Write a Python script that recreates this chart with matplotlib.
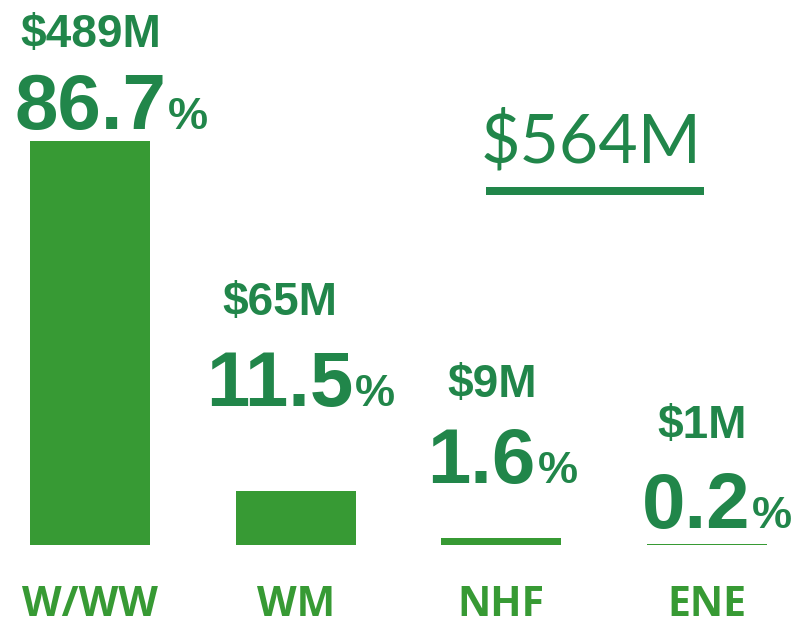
import matplotlib.pyplot as plt

# data
categories = ["W/WW", "WM", "NHF", "ENE"]
share_pct = [86.7, 11.5, 1.6, 0.2]
pct_labels = ["86.7", "11.5", "1.6", "0.2"]
money_labels = ["$489M", "$65M", "$9M", "$1M"]
total_label = "$564M"

# layout (figure pixels, y measured from top)
W, H = 802, 626
money_pos = [(91, 47), (280, 315), (492, 397), (702, 438)]
pct_pos = [(166, 129), (353, 406), (536, 483), (750, 528)]
label_y = 616

BAR = "#379a34"
TXT = "#21864a"

fig = plt.figure(figsize=(W / 72, H / 72), dpi=72)
ax = fig.add_axes([0, 0, 1, 1])
ax.axis("off")

step = 205.67
ax.set_xlim(-90 / step, (W - 90) / step)
scale = 86.7 / 404
ax.set_ylim(-81 * scale, (H - 81) * scale)

ax.bar(range(len(categories)), share_pct, width=120 / step, color=BAR)

for i, cat in enumerate(categories):
    ax.annotate(cat, xy=(i, H - label_y), xycoords=("data", "figure pixels"),
                ha="center", va="baseline", fontsize=41, fontweight="bold",
                family="Open Sans", color=BAR)
    mx, my = money_pos[i]
    ax.annotate(money_labels[i], xy=(mx, H - my), xycoords="figure pixels",
                ha="center", va="baseline", fontsize=46, fontweight="bold",
                family="Liberation Sans", color=TXT)
    px, py = pct_pos[i]
    ax.annotate(pct_labels[i], xy=(px, H - py), xycoords="figure pixels",
                ha="right", va="baseline", fontsize=78, fontweight="bold",
                family="Liberation Sans", color=TXT)
    ax.annotate("%", xy=(px + 2, H - py), xycoords="figure pixels",
                ha="left", va="baseline", fontsize=45, fontweight="bold",
                family="Liberation Sans", color=TXT)

# total
ax.annotate(total_label, xy=(591, H - 163), xycoords="figure pixels",
            ha="center", va="baseline", fontsize=68, fontweight="normal",
            family="Lato", color=TXT)
ax.plot([486 / W, 704 / W], [(H - 191) / H] * 2, transform=fig.transFigure,
        color=TXT, linewidth=8, solid_capstyle="butt")

fig.savefig("out.png", dpi=72)
